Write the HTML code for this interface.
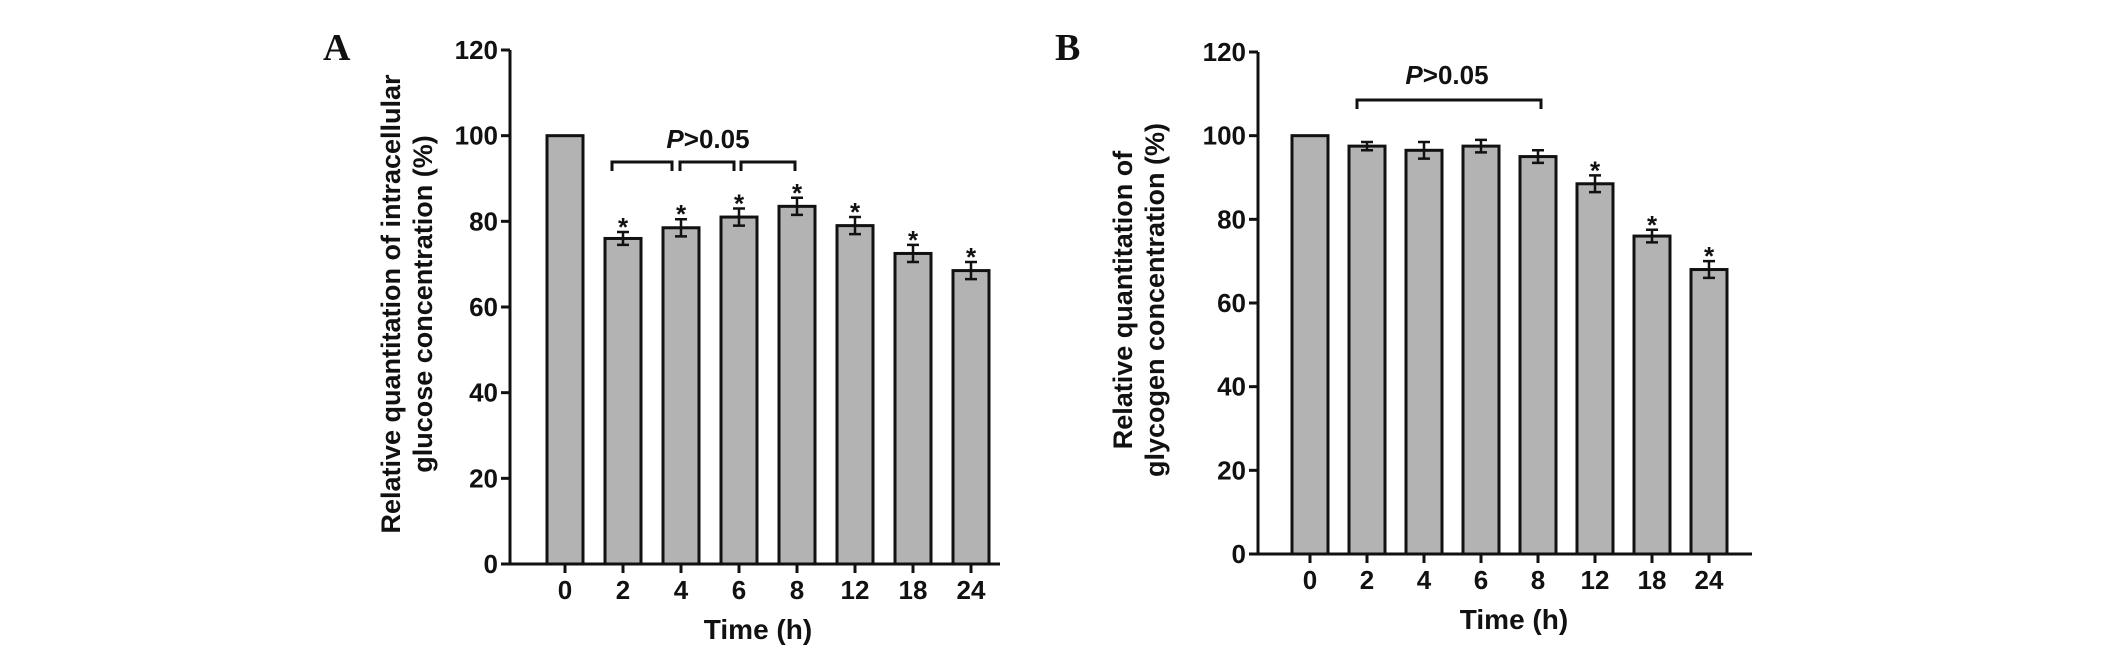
<!DOCTYPE html>
<html><head><meta charset="utf-8"><style>
html,body{margin:0;padding:0;background:#fff;width:2126px;height:653px;overflow:hidden}
text{font-family:"Liberation Sans",sans-serif;font-weight:bold;fill:#111}
</style></head><body>
<svg id="fig" width="2126" height="653" viewBox="0 0 2126 653" xmlns="http://www.w3.org/2000/svg">
<text x="323" y="60" style="font-family:'Liberation Serif',serif;font-size:38px">A</text>
<text x="1055" y="60" style="font-family:'Liberation Serif',serif;font-size:38px">B</text>
</svg>
<script>
const categories = ["0","2","4","6","8","12","18","24"];
const valuesA = [100, 76, 78.5, 81, 83.5, 79, 72.5, 68.5];
const errorsA = [0, 1.5, 2, 2, 2, 2, 2, 2];
const starsA = [false, true, true, true, true, true, true, true];
const valuesB = [100, 97.5, 96.5, 97.5, 95, 88.5, 76, 68];
const errorsB = [0, 1, 2, 1.5, 1.5, 2, 1.5, 2];
const starsB = [false, false, false, false, false, true, true, true];
const yTicks = [0, 20, 40, 60, 80, 100, 120];

const NS = "http://www.w3.org/2000/svg";
const svg = document.getElementById('fig');
function mk(tag, attrs, parent, txt) {
  const e = document.createElementNS(NS, tag);
  for (const k in attrs) e.setAttribute(k, attrs[k]);
  if (txt !== undefined) e.textContent = txt;
  (parent || svg).appendChild(e);
  return e;
}

function chart(cfg) {
  const g = mk('g', {});
  
  
  const y = v => cfg.y0 - (cfg.y0 - cfg.y120) * v / 120;
  const x = i => cfg.x0 + cfg.step * i;
  const bw = 36;
  cfg.values.forEach((v, i) => {
    const r = mk('rect', {x: x(i) - bw / 2, y: y(v), width: bw, height: cfg.y0 - y(v), fill: '#b3b3b3', stroke: '#111', 'stroke-width': 3}, g);
    
    
    const e = cfg.errors[i];
    if (e > 0) {
      const eb = mk('path', {d: `M${x(i)} ${y(v + e)}V${y(v - e)}M${x(i) - 6} ${y(v + e)}H${x(i) + 6}M${x(i) - 6} ${y(v - e)}H${x(i) + 6}`, stroke: '#111', 'stroke-width': 2.5, fill: 'none'}, g);
      
      
    }
    if (cfg.stars[i]) {
      const s = mk('text', {x: x(i), y: y(v + e) + 4, 'text-anchor': 'middle', 'font-size': 26}, g, '*');
      
      
    }
  });
  const ax = mk('path', {d: `M${cfg.ax} ${cfg.y120}V${cfg.y0}M${cfg.ax - 9} ${cfg.y0}H${cfg.xEnd}`, stroke: '#111', 'stroke-width': 3, fill: 'none'}, g);
  
  
  yTicks.forEach(t => {
    mk('line', {x1: cfg.ax - 9, x2: cfg.ax, y1: y(t), y2: y(t), stroke: '#111', 'stroke-width': 3}, g);
    const tl = mk('text', {x: cfg.ax - 12, y: y(t) + 9, 'text-anchor': 'end', 'font-size': 26}, g, String(t));
    
    
  });
  categories.forEach((c, i) => {
    mk('line', {x1: x(i), x2: x(i), y1: cfg.y0, y2: cfg.y0 + 9, stroke: '#111', 'stroke-width': 3}, g);
    const tl = mk('text', {x: x(i), y: cfg.y0 + 35, 'text-anchor': 'middle', 'font-size': 26}, g, c);
    
    
  });
  const xt = mk('text', {x: cfg.xtX, y: cfg.y0 + 75, 'text-anchor': 'middle', 'font-size': 28}, g, 'Time (h)');
  
  
  const yt = mk('text', {transform: `translate(${cfg.ytX},${cfg.ytY}) rotate(-90)`, 'text-anchor': 'middle', 'font-size': 27}, g);
  
  
  mk('tspan', {x: 0, y: 0}, yt, cfg.yTitle[0]);
  mk('tspan', {x: 0, y: 32}, yt, cfg.yTitle[1]);
  cfg.brackets.forEach(b => {
    const p = mk('path', {d: `M${b[0]} ${b[2] + 9}V${b[2]}H${b[1]}V${b[2] + 9}`, stroke: '#111', 'stroke-width': 3, fill: 'none'}, g);
    
    
  });
  const pt = mk('text', {x: cfg.pX, y: cfg.pY, 'text-anchor': 'middle', 'font-size': 26}, g);
  
  
  mk('tspan', {'font-style': 'italic'}, pt, 'P');
  mk('tspan', {}, pt, '>0.05');
}

chart({name: 'chart-a-glucose', values: valuesA, errors: errorsA, stars: starsA,
  x0: 565, step: 58, y0: 564, y120: 50, ax: 510, xEnd: 1000, xtX: 758,
  ytX: 400, ytY: 304, yTitle: ['Relative quantitation of intracellular', 'glucose concentration (%)'],
  brackets: [[612, 672, 162], [680, 734, 162], [741, 795, 162]], pX: 708, pY: 148});
chart({name: 'chart-b-glycogen', values: valuesB, errors: errorsB, stars: starsB,
  x0: 1310, step: 57, y0: 554, y120: 52, ax: 1258, xEnd: 1752, xtX: 1514,
  ytX: 1132, ytY: 300, yTitle: ['Relative quantitation of', 'glycogen concentration (%)'],
  brackets: [[1357, 1541, 100]], pX: 1447, pY: 84});
</script>
</body></html>
